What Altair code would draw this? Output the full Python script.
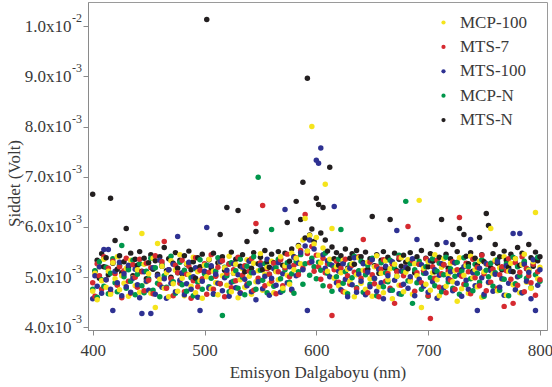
import altair as alt
import pandas as pd

# Emission wavelength grid (nm)
WAVELENGTH = [
    400, 402, 404, 406, 408, 410, 412, 414, 416, 418, 420, 422, 424, 426, 428, 430, 432, 434, 436, 438,
    440, 442, 444, 446, 448, 450, 452, 454, 456, 458, 460, 462, 464, 466, 468, 470, 472, 474, 476, 478,
    480, 482, 484, 486, 488, 490, 492, 494, 496, 498, 500, 502, 504, 506, 508, 510, 512, 514, 516, 518,
    520, 522, 524, 526, 528, 530, 532, 534, 536, 538, 540, 542, 544, 546, 548, 550, 552, 554, 556, 558,
    560, 562, 564, 566, 568, 570, 572, 574, 576, 578, 580, 582, 584, 586, 588, 590, 592, 594, 596, 598,
    600, 602, 604, 606, 608, 610, 612, 614, 616, 618, 620, 622, 624, 626, 628, 630, 632, 634, 636, 638,
    640, 642, 644, 646, 648, 650, 652, 654, 656, 658, 660, 662, 664, 666, 668, 670, 672, 674, 676, 678,
    680, 682, 684, 686, 688, 690, 692, 694, 696, 698, 700, 702, 704, 706, 708, 710, 712, 714, 716, 718,
    720, 722, 724, 726, 728, 730, 732, 734, 736, 738, 740, 742, 744, 746, 748, 750, 752, 754, 756, 758,
    760, 762, 764, 766, 768, 770, 772, 774, 776, 778, 780, 782, 784, 786, 788, 790, 792, 794, 796, 798,
    800,
]

# Intensities in units of 1e-5 V
MCP_100 = [
    472, 508, 455, 521, 493, 536, 480, 512, 466, 529, 497, 541, 475, 503, 488, 518, 462, 534, 499, 483,
    515, 470, 587, 526, 491, 507, 468, 538, 440, 567, 496, 522, 478, 509, 461, 533, 487, 514, 472, 545,
    498, 463, 527, 505, 482, 540, 469, 511, 493, 458, 524, 501, 536, 477, 512, 489, 465, 530, 503, 519,
    484, 542, 471, 508, 526, 459, 495, 517, 480, 535, 502, 466, 528, 491, 513, 547, 474, 506, 520, 487,
    532, 469, 511, 495, 541, 478, 523, 504, 486, 548, 515, 538, 561, 527, 574, 617, 552, 583, 800, 566,
    579, 544, 529, 558, 685, 512, 536, 597, 498, 521, 483, 509, 534, 470, 516, 492, 527, 461, 505, 539,
    488, 514, 476, 530, 497, 462, 521, 543, 481, 508, 469, 533, 495, 517, 457, 526, 502, 484, 539, 471,
    510, 535, 492, 466, 527, 503, 653, 440, 518, 486, 531, 474, 509, 545, 495, 463, 520, 537, 482, 506,
    528, 491, 513, 452, 539, 477, 504, 523, 468, 542, 499, 515, 481, 532, 460, 511, 526, 489, 597, 507,
    534, 473, 519, 496, 541, 464, 512, 528, 485, 537, 501, 469, 525, 546, 490, 514, 478, 531, 629, 497,
    520,
]
MTS_7 = [
    489, 462, 527, 503, 476, 541, 495, 518, 470, 532, 507, 484, 521, 459, 513, 538, 492, 468, 525, 500,
    480, 536, 511, 473, 528, 494, 519, 467, 543, 502, 485, 531, 571, 478, 515, 497, 463, 524, 509, 488,
    534, 471, 506, 522, 458, 493, 539, 481, 514, 497, 527, 466, 510, 545, 476, 502, 520, 487, 533, 461,
    508, 526, 479, 515, 493, 540, 469, 504, 523, 486, 512, 537, 474, 607, 498, 529, 643, 483, 517, 506,
    492, 528, 467, 511, 535, 483, 519, 546, 501, 474, 524, 539, 505, 553, 518, 625, 547, 529, 561, 512,
    544, 521, 496, 538, 509, 527, 482, 424, 515, 532, 490, 518, 471, 536, 503, 486, 524, 510, 477, 541,
    498, 575, 513, 469, 530, 505, 487, 522, 461, 516, 535, 492, 508, 478, 527, 448, 511, 539, 484, 503,
    520, 601, 495, 533, 472, 509, 526, 489, 514, 537, 463, 418, 521, 498, 534, 480, 507, 525, 469, 512,
    494, 531, 476, 515, 619, 502, 486, 528, 511, 467, 536, 499, 520, 483, 544, 507, 473, 525, 490, 516,
    532, 478, 505, 521, 442, 513, 537, 496, 448, 529, 484, 510, 541, 471, 518, 503, 489, 526, 464, 511,
    495,
]
MTS_100 = [
    457, 503, 482, 521, 468, 555, 495, 555, 476, 434, 512, 489, 530, 463, 507, 481, 524, 470, 498, 516,
    485, 459, 428, 511, 492, 474, 428, 519, 466, 503, 534, 480, 497, 458, 515, 488, 526, 471, 581, 494,
    509, 465, 487, 530, 476, 501, 519, 460, 434, 492, 512, 599, 478, 523, 467, 506, 488, 531, 473, 499,
    514, 462, 490, 527, 479, 505, 468, 520, 496, 483, 532, 471, 509, 455, 491, 524, 477, 502, 536, 464,
    498, 517, 484, 529, 470, 507, 635, 489, 521, 476, 540, 503, 528, 549, 515, 562, 434, 574, 531, 556,
    733, 727, 757, 545, 518, 533, 501, 524, 641, 489, 512, 475, 527, 496, 461, 518, 485, 539, 470, 506,
    492, 527, 465, 510, 481, 535, 498, 472, 516, 489, 457, 522, 503, 474, 531, 494, 593, 467, 512, 486,
    520, 478, 501, 537, 463, 575, 496, 525, 482, 508, 470, 533, 491, 515, 458, 504, 527, 479, 569, 497,
    511, 473, 529, 488, 505, 462, 521, 494, 476, 575, 509, 483, 434, 518, 499, 466, 527, 490, 513, 472,
    506, 531, 480, 497, 464, 523, 488, 512, 587, 475, 501, 587, 469, 526, 492, 510, 457, 535, 434, 484,
    515,
]
MCP_N = [
    476, 513, 460, 531, 495, 482, 520, 467, 508, 537, 489, 471, 524, 563, 501, 478, 515, 492, 534, 465,
    506, 527, 483, 469, 512, 497, 538, 474, 519, 488, 461, 526, 503, 480, 515, 542, 491, 468, 509, 530,
    485, 514, 472, 528, 499, 463, 517, 490, 535, 476, 507, 524, 481, 498, 466, 512, 539, 487, 424, 520,
    503, 471, 529, 492, 513, 478, 536, 500, 465, 522, 488, 509, 541, 476, 699, 514, 494, 527, 469, 506,
    595, 482, 519, 536, 497, 473, 515, 529, 490, 507, 468, 532, 511, 545, 486, 527, 552, 504, 538, 521,
    497, 530, 514, 483, 548, 508, 526, 472, 519, 501, 536, 595, 488, 511, 467, 525, 499, 542, 479, 513,
    532, 470, 505, 524, 486, 538, 497, 463, 516, 529, 481, 509, 491, 534, 474, 518, 502, 544, 466, 511,
    651, 493, 527, 448, 515, 489, 532, 476, 508, 521, 462, 499, 537, 483, 512, 528, 471, 505, 540, 491,
    517, 478, 502, 530, 466, 512, 539, 485, 521, 497, 473, 526, 508, 490, 535, 462, 514, 501, 528, 482,
    509, 535, 474, 518, 496, 527, 463, 512, 540, 487, 521, 503, 469, 532, 498, 515, 479, 526, 505, 540,
    492,
]
MTS_N = [
    665, 512, 534, 498, 547, 521, 539, 505, 657, 528, 573, 516, 543, 509, 531, 597, 519, 548, 503, 536,
    524, 551, 512, 538, 497, 529, 545, 516, 533, 506, 541, 522, 559, 513, 537, 500, 528, 549, 518, 534,
    507, 543, 526, 552, 515, 531, 498, 539, 521, 546, 510, 1013, 535, 519, 548, 503, 529, 585, 541, 514,
    639, 527, 550, 508, 536, 633, 522, 545, 511, 571, 533, 518, 549, 591, 527, 540, 515, 553, 531, 520,
    546, 529, 512, 551, 537, 524, 548, 609, 532, 556, 541, 651, 563, 615, 689, 578, 896, 584, 596, 571,
    657, 645, 588, 639, 574, 552, 719, 560, 537, 549, 524, 543, 531, 556, 518, 538, 547, 526, 553, 512,
    541, 529, 550, 516, 537, 621, 523, 545, 508, 534, 551, 519, 540, 615, 527, 548, 513, 536, 522, 544,
    530, 517, 549, 535, 509, 541, 526, 553, 514, 538, 521, 547, 532, 511, 565, 540, 615, 525, 546, 518,
    537, 565, 529, 551, 597, 515, 585, 542, 527, 549, 512, 538, 524, 579, 545, 531, 627, 603, 519, 547,
    565, 528, 541, 515, 552, 534, 520, 546, 511, 537, 559, 524, 548, 530, 517, 565, 539, 522, 550, 533,
    541,
]

SERIES = ["MCP-100", "MTS-7", "MTS-100", "MCP-N", "MTS-N"]
COLORS = ["#f5e41c", "#d62a30", "#2e3192", "#00964b", "#231f20"]
SERIES_DATA = {"MCP-100": MCP_100, "MTS-7": MTS_7, "MTS-100": MTS_100, "MCP-N": MCP_N, "MTS-N": MTS_N}
DRAW_ORDER = ["MTS-N", "MCP-N", "MTS-7", "MCP-100", "MTS-100"]

X_TICKS = [400, 500, 600, 700, 800]
Y_TICKS = [0.004, 0.005, 0.006, 0.007, 0.008, 0.009, 0.010]
Y_TICK_EXP = ["-3", "-3", "-3", "-3", "-3", "-3", "-2"]

for k, v in SERIES_DATA.items():
    assert len(v) == len(WAVELENGTH), (k, len(v))

rows = []
n = 0
for i in range(len(WAVELENGTH)):
    for name in DRAW_ORDER:
        rows.append({"wl": WAVELENGTH[i], "v": SERIES_DATA[name][i] * 1e-5, "series": name, "ord": n})
        n += 1
df = pd.DataFrame(rows)
exp_df = pd.DataFrame({"v": Y_TICKS, "e": Y_TICK_EXP})

FONT = "Liberation Serif"
TXT = "#3a3a3a"

x_scale = alt.Scale(domain=[395.8, 806.3], nice=False, zero=False)
y_scale = alt.Scale(domain=[0.00395, 0.010478], nice=False, zero=False)

points = alt.Chart(df).mark_circle(size=30, opacity=1).encode(
    x=alt.X("wl:Q", scale=x_scale, axis=alt.Axis(
        values=X_TICKS, title="Emisyon Dalgaboyu (nm)", tickSize=5, labelPadding=7,
        titleY=47, titleBaseline="alphabetic")),
    y=alt.Y("v:Q", scale=y_scale, axis=alt.Axis(
        values=Y_TICKS, title="Şiddet (Volt)", tickSize=5, labelPadding=12,
        labelExpr="datum.value > 0.0095 ? '1.0x10' : format(datum.value*1000, '.1f') + 'x10'",
        titleX=-69, titleY=181, titleAngle=-90, titleAlign="center", titleBaseline="alphabetic")),
    color=alt.Color("series:N", scale=alt.Scale(domain=SERIES, range=COLORS), legend=alt.Legend(
        title=None, orient="none", legendX=347, legendY=12, padding=0,
        labelFont=FONT, labelFontSize=17, labelColor=TXT, symbolType="circle", symbolSize=18,
        symbolStrokeWidth=0, rowPadding=6.4, labelOffset=8)),
    order=alt.Order("ord:Q"),
)

exps = alt.Chart(exp_df).mark_text(
    align="left", baseline="middle", fontSize=12, font=FONT, color=TXT, dy=-8
).encode(
    x=alt.value(-16),
    y=alt.Y("v:Q", scale=y_scale),
    text="e:N",
)

chart = alt.layer(points, exps).properties(
    width=459, height=328,
    padding={"left": 88, "top": 2, "right": 5, "bottom": 57},
    autosize=alt.AutoSizeParams(type="none"),
    background="white",
).configure_view(
    stroke="#9a9a9a", strokeWidth=1
).configure_axis(
    grid=False, domainColor="#8a8a8a", tickColor="#8a8a8a",
    labelFont=FONT, labelFontSize=17, labelColor=TXT,
    titleFont=FONT, titleFontSize=17, titleFontWeight="normal", titleColor=TXT,
)

chart.save("out.html", embed_options={"renderer": "svg", "actions": False})
